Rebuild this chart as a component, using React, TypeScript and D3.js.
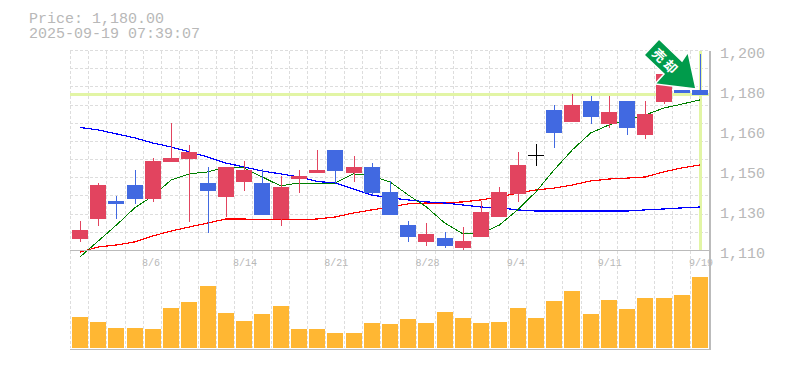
import React from "react";
import * as d3 from "d3";

const W = 785, H = 370;
const priceLabel = "Price: 1,180.00";
const dateLabel = "2025-09-19 07:39:07";
const lastPriceLevel = 1181.5;
const yTickLabels = ["1,200", "1,180", "1,160", "1,150", "1,130", "1,110"];
const xTickLabels: [number, string][] = [[4, "8/6"], [9, "8/14"], [14, "8/21"], [19, "8/28"], [24, "9/4"], [29, "9/11"], [34, "9/19"]];

const opens = [1116.3,1125.3,1133.4,1140.6,1134.3,1151.0,1152.3,1141.5,1135.2,1141.9,1141.5,1125.3,1143.3,1146.0,1156.4,1146.0,1148.7,1137.5,1122.6,1115.0,1116.8,1112.3,1117.2,1126.2,1136.6,1154.1,1174.4,1169.0,1178.4,1168.1,1178.4,1163.1,1178.0,1183.4,1183.4];
const closes = [1120.4,1140.6,1132.1,1134.3,1151.4,1152.8,1155.5,1137.9,1148.7,1147.4,1127.1,1139.7,1144.7,1147.4,1146.9,1148.7,1137.0,1127.1,1117.2,1118.6,1113.2,1115.4,1128.5,1137.5,1149.6,1154.1,1164.0,1176.6,1171.2,1173.5,1166.3,1172.6,1190.6,1182.0,1181.1];
const highs = [1124.4,1141.5,1135.6,1147.4,1152.8,1168.5,1158.6,1148.7,1148.7,1151.4,1147.8,1144.7,1147.4,1156.4,1156.4,1153.7,1150.5,1142.4,1124.4,1123.5,1119.5,1121.7,1133.4,1139.7,1155.5,1159.0,1176.6,1181.6,1180.7,1180.7,1178.4,1178.4,1190.6,1183.4,1199.6];
const lows = [1115.0,1122.2,1125.3,1132.1,1133.0,1151.0,1124.0,1119.0,1126.2,1137.9,1127.1,1122.2,1137.0,1146.0,1141.5,1141.9,1136.1,1127.1,1115.0,1113.2,1112.3,1110.9,1117.2,1126.2,1133.0,1149.2,1157.2,1169.0,1168.1,1166.3,1163.1,1161.3,1177.1,1182.0,1181.1];
const maGreen = [1108.2,1115.4,1122.6,1130.3,1135.7,1142.9,1145.6,1146.5,1148.7,1148.3,1144.2,1140.2,1141.5,1141.5,1141.5,1145.6,1144.7,1142.0,1136.1,1130.7,1123.5,1118.6,1118.6,1122.6,1129.4,1137.5,1147.4,1156.4,1164.0,1167.6,1169.9,1172.1,1175.2,1177.0,1178.9];
const maRed = [1110.4,1112.7,1113.6,1115.0,1117.7,1119.9,1121.7,1123.5,1125.3,1125.3,1124.9,1124.9,1124.9,1125.3,1126.2,1128.0,1129.4,1130.7,1132.1,1132.5,1132.5,1133.0,1133.9,1135.2,1137.0,1138.4,1139.2,1140.6,1142.4,1143.3,1143.7,1144.2,1146.5,1148.3,1149.6];
const maBlue = [1166.5,1165.4,1163.6,1161.8,1159.5,1157.7,1155.5,1153.2,1150.5,1148.7,1146.9,1145.6,1144.2,1142.2,1141.5,1138.8,1136.1,1134.8,1133.9,1133.0,1132.5,1131.6,1130.7,1130.3,1129.4,1128.9,1128.9,1128.9,1128.9,1128.9,1128.9,1129.4,1129.8,1130.3,1130.7];
const volumes = [31,26,20,20,19,40,46,62,35,27,34,42,19,19,15,15,25,24,29,25,36,30,25,26,40,30,47,57,34,48,39,50,50,53,71];

const UP = "#e2445f", DOWN = "#4169e1", DOJI = "#000000", VOL = "#ffb733";
const GRID = "#dddddd", AXIS = "#bbbbbb", TEXT = "#b8b8b8", LEVEL = "#e2f5a5";
const MONO = "'Liberation Mono', monospace";

const idx = d3.range(opens.length);
const x = d3.scaleLinear().domain([0, opens.length - 1]).range([80, 700]);
const y = d3.scaleLinear().domain([1110, 1200]).range([253, 53]);
const yv = d3.scaleLinear().domain([0, d3.max(volumes)!]).range([348, 277]);
const lineOf = d3.line<number>().x((_, i) => x(i)).y((d) => y(d));
const hLines = d3.range(0, 11).map((k) => 50.5 + k * 18.18);
const vLines = d3.range(0, 35).map((i) => x(i) - 9.5);
const yTickPos = d3.scaleLinear().domain([0, 5]).range([53, 253]);
const barW = 16;

export default function App() {
  return (
    <svg width={W} height={H} style={{ position: "absolute", left: 0, top: 0, background: "#fff" }}>
      <text x={29} y={23} fontFamily={MONO} fontSize={15} fill={TEXT}>{priceLabel}</text>
      <text x={29} y={38} fontFamily={MONO} fontSize={15} fill={TEXT}>{dateLabel}</text>

      <g stroke={GRID} strokeDasharray="3 2" shapeRendering="crispEdges">
        {hLines.map((v) => <line key={v} x1={70} x2={709} y1={v} y2={v} />)}
        {vLines.map((v) => <line key={v} x1={v} x2={v} y1={51} y2={348} />)}
      </g>

      <line x1={70} x2={709} y1={y(lastPriceLevel)} y2={y(lastPriceLevel)} stroke={LEVEL} strokeWidth={3} shapeRendering="crispEdges" />
      <line x1={x(34)} x2={x(34)} y1={51} y2={250} stroke={LEVEL} strokeWidth={3} shapeRendering="crispEdges" />

      <g fill="none" shapeRendering="crispEdges">
        <path d={lineOf(maRed)!} stroke="#ff0000" strokeWidth={1.2} />
        <path d={lineOf(maBlue)!} stroke="#0000ff" strokeWidth={1.2} />
        <path d={lineOf(maGreen)!} stroke="#008000" strokeWidth={1} />
      </g>

      <g shapeRendering="crispEdges">
        {idx.map((i) => {
          const o = opens[i], c = closes[i];
          const color = c > o ? UP : c < o ? DOWN : DOJI;
          const top = y(Math.max(o, c)), bot = y(Math.min(o, c));
          const cx = Math.round(x(i));
          return (
            <g key={i}>
              <line x1={cx} x2={cx} y1={y(highs[i])} y2={y(lows[i])} stroke={color} strokeWidth={1} />
              {c === o
                ? <line x1={cx - 8} x2={cx + 8} y1={top} y2={top} stroke={color} />
                : <rect x={cx - barW / 2} y={top} width={barW} height={Math.max(1, bot - top)} fill={color} />}
            </g>
          );
        })}
      </g>

      <g shapeRendering="crispEdges">
        {volumes.map((v, i) => (
          <rect key={i} x={Math.round(x(i)) - barW / 2} y={yv(v)} width={barW} height={348 - yv(v)} fill={VOL} />
        ))}
      </g>

      <g stroke={AXIS} strokeWidth={1.5} shapeRendering="crispEdges">
        <line x1={70} x2={710} y1={250.5} y2={250.5} />
        <line x1={70} x2={710} y1={349.5} y2={349.5} />
        <line x1={710} x2={710} y1={51} y2={350} />
      </g>

      {yTickLabels.map((t, i) => (
        <text key={t} x={720} y={yTickPos(i) + 5} fontFamily={MONO} fontSize={15} fill={TEXT}>{t}</text>
      ))}
      {xTickLabels.map(([i, t]) => (
        <text key={t} x={x(i) - 11} y={266} fontFamily={MONO} fontSize={10} fill={TEXT}>{t}</text>
      ))}

      <polygon points="644,55 659,39 682,61 688,52 696,89 655,84 664,74" fill="#009b4b" stroke="#ffffff" strokeWidth={1.5} />
      <g transform="translate(666,62) rotate(45)">
        <text x={0} y={5} textAnchor="middle" fontFamily="'Noto Sans CJK JP'" fontWeight={700} fontSize={13} letterSpacing={3} fill="#ffffff">売却</text>
      </g>
    </svg>
  );
}
